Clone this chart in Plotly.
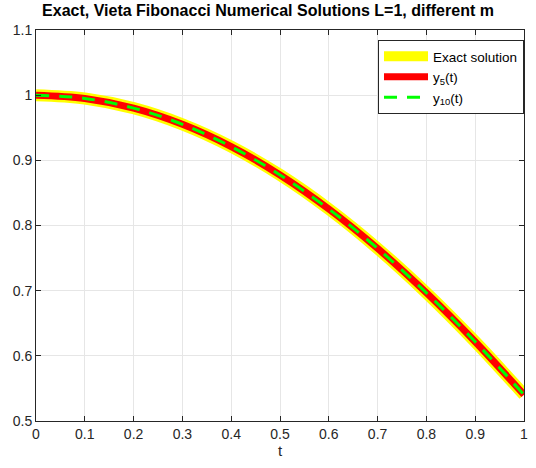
import plotly.graph_objects as go

t = [0.0, 0.1, 0.2, 0.3, 0.4, 0.5, 0.6, 0.7, 0.8, 0.9, 1.0]
exact = [1.0, 0.9950, 0.9801, 0.9553, 0.9211, 0.8776, 0.8253, 0.7648, 0.6967, 0.6216, 0.5403]
y5 = [1.0, 0.9950, 0.9801, 0.9553, 0.9211, 0.8776, 0.8253, 0.7648, 0.6967, 0.6216, 0.5403]
y10 = [1.0, 0.9950, 0.9801, 0.9553, 0.9211, 0.8776, 0.8253, 0.7648, 0.6967, 0.6216, 0.5403]

xticks = [0, 0.1, 0.2, 0.3, 0.4, 0.5, 0.6, 0.7, 0.8, 0.9, 1]
xticklabels = ["0", "0.1", "0.2", "0.3", "0.4", "0.5", "0.6", "0.7", "0.8", "0.9", "1"]
yticks = [0.5, 0.6, 0.7, 0.8, 0.9, 1.0, 1.1]
yticklabels = ["0.5", "0.6", "0.7", "0.8", "0.9", "1", "1.1"]

fig = go.Figure()
fig.add_trace(go.Scatter(x=t, y=exact, mode="lines", name="Exact solution", legendgroup="a",
                         line=dict(color="#FFFF00", width=12, shape="spline")))
fig.add_trace(go.Scatter(x=t, y=y5, mode="lines", name="y<sub>5</sub>(t)", legendgroup="b",
                         line=dict(color="#FF0000", width=7, shape="spline")))
fig.add_trace(go.Scatter(x=t, y=y10, mode="lines", name="y<sub>10</sub>(t)", legendgroup="c",
                         line=dict(color="#00FF00", width=3, dash="13px,10px", shape="spline")))

axis_common = dict(showline=True, linecolor="#262626", linewidth=1, mirror="ticks",
                   ticks="inside", ticklen=5, tickcolor="#262626", automargin=False,
                   showgrid=True, gridcolor="#E6E6E6", gridwidth=1, zeroline=False,
                   ticklabeloverflow="allow",
                   tickfont=dict(size=14, color="#262626"))

fig.update_layout(
    width=536, height=468,
    margin=dict(l=36, r=12, t=30, b=47),
    paper_bgcolor="white", plot_bgcolor="white",
    font=dict(family="Liberation Sans, Arial, sans-serif", color="#262626"),
    title=dict(text="<b>Exact, Vieta Fibonacci Numerical Solutions L=1, different m</b>",
               x=0.5, xanchor="center", y=0.978, yanchor="middle", automargin=False,
               font=dict(size=16, color="black")),
    xaxis=dict(range=[0, 1], tickvals=xticks, ticktext=xticklabels,
               title=dict(text="t", font=dict(size=15), standoff=2), **axis_common),
    yaxis=dict(range=[0.5, 1.1], tickvals=yticks, ticktext=yticklabels, **axis_common),
    legend=dict(x=1.0, y=0.9745, xanchor="right", yanchor="top",
                bgcolor="white", bordercolor="#262626", borderwidth=1,
                font=dict(size=13.5, color="black"), itemwidth=44, tracegroupgap=0),
    showlegend=True,
)

# remove the default 8px body margin so the figure sits at the page's top-left corner
fig.write_html("out.html",
               config={"displayModeBar": False},
               post_script="document.body.style.margin='0';document.body.style.overflow='hidden';")
